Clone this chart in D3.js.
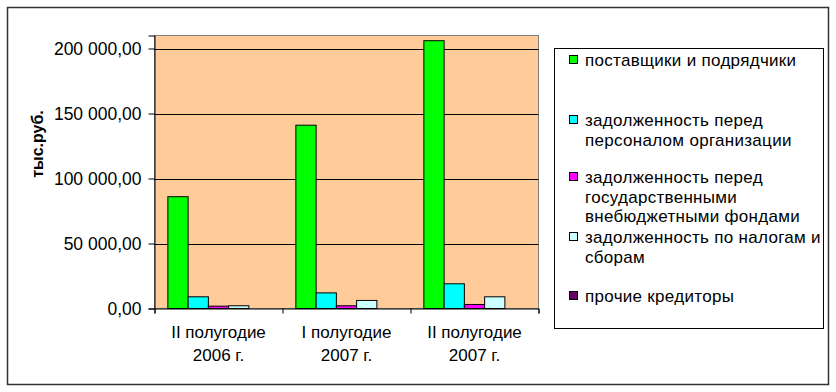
<!DOCTYPE html>
<html>
<head>
<meta charset="utf-8">
<script src="https://cdn.jsdelivr.net/npm/d3@7"></script>
<style>
  body { margin: 0; background: #fff; }
  svg { display: block; font-family: "Liberation Sans", Arial, sans-serif; }
</style>
</head>
<body>
<svg id="chart"></svg>
<script>
var categories = ["II полугодие\n2006 г.", "I полугодие\n2007 г.", "II полугодие\n2007 г."];
var seriesNames = [
    "поставщики и подрядчики",
    "задолженность перед\nперсоналом организации",
    "задолженность перед\nгосударственными\nвнебюджетными фондами",
    "задолженность по налогам и\nсборам",
    "прочие кредиторы"
];
var seriesColors = ["#00ff00", "#00ffff", "#ff00ff", "#ccffff", "#660066"];
var suppliers = [86000, 141000, 206000];
var personnel = [9000, 12000, 19000];
var funds = [1800, 2100, 3100];
var taxes = [2100, 6200, 9000];
var others = [0, 0, 0];
var yTicks = [0, 50000, 100000, 150000, 200000];

var seriesValues = [suppliers, personnel, funds, taxes, others];

var W = 836, H = 392;
var plot = { left: 154.5, right: 538.5, top: 35.5, bottom: 308.5 };

var svg = d3.select("#chart").attr("width", W).attr("height", H);

// outer frame
svg.append("rect")
    .attr("x", 7.5).attr("y", 7.5)
    .attr("width", 821).attr("height", 377)
    .attr("fill", "#fff")
    .attr("stroke", "#333").attr("stroke-width", 1.5);

var x0 = d3.scaleBand()
    .domain(categories)
    .range([plot.left, plot.right])
    .paddingInner(0).paddingOuter(0);

var x1 = d3.scaleBand()
    .domain(d3.range(seriesNames.length))
    .range([0, x0.bandwidth()])
    .paddingInner(0).paddingOuter(0.66);

var y = d3.scaleLinear()
    .domain([0, 210000])
    .range([plot.bottom, plot.top]);

// plot background
svg.append("rect")
    .attr("x", plot.left).attr("y", plot.top)
    .attr("width", plot.right - plot.left)
    .attr("height", plot.bottom - plot.top)
    .attr("fill", "#ffcc99")
    .attr("stroke", "#808080").attr("stroke-width", 1);

// gridlines
svg.append("g").selectAll("line")
    .data(yTicks.filter(function(d) { return d > 0; }))
    .enter().append("line")
    .attr("x1", plot.left).attr("x2", plot.right)
    .attr("y1", function(d) { return Math.round(y(d)) + 0.5; })
    .attr("y2", function(d) { return Math.round(y(d)) + 0.5; })
    .attr("stroke", "#000").attr("stroke-width", 1);

// bars
var fmt = function(v) {
    return d3.format(",.2f")(v).replace(/,/g, " ").replace(".", ",");
};
var groups = svg.append("g").selectAll("g")
    .data(categories)
    .enter().append("g")
    .attr("transform", function(d) { return "translate(" + x0(d) + ",0)"; });

groups.selectAll("rect")
    .data(function(c, ci) {
        return seriesValues.map(function(vals, si) { return { s: si, v: vals[ci] }; })
            .filter(function(d) { return d.v > 0; });
    })
    .enter().append("rect")
    .attr("x", function(d) { return x1(d.s); })
    .attr("y", function(d) { return y(d.v); })
    .attr("width", x1.bandwidth())
    .attr("height", function(d) { return y(0) - y(d.v); })
    .attr("fill", function(d) { return seriesColors[d.s]; })
    .attr("stroke", "#000").attr("stroke-width", 1);

// y axis
var yAxis = svg.append("g")
    .attr("transform", "translate(" + plot.left + ",0)")
    .call(d3.axisLeft(y).tickValues(yTicks).tickSize(6).tickPadding(7).tickFormat(fmt));
yAxis.select(".domain").attr("stroke", "#000");
yAxis.selectAll("line").attr("stroke", "#000");
yAxis.selectAll("text")
    .attr("font-size", 17.5)
    .attr("font-family", "Liberation Sans, Arial, sans-serif")
    .attr("fill", "#000");

// x axis with boundary ticks
var xb = d3.scaleLinear().domain([0, categories.length]).range([plot.left, plot.right]);
var xAxis = svg.append("g")
    .attr("transform", "translate(0," + plot.bottom + ")")
    .call(d3.axisBottom(xb).tickValues(d3.range(categories.length + 1)).tickSize(5).tickFormat(""));
xAxis.select(".domain").attr("stroke", "#000");
xAxis.selectAll("line").attr("stroke", "#000");

svg.append("g").selectAll("text")
    .data(categories)
    .enter().append("text")
    .attr("x", function(d) { return x0(d) + x0.bandwidth() / 2; })
    .attr("y", 338)
    .attr("text-anchor", "middle")
    .attr("font-size", 17)
    .attr("fill", "#000")
    .each(function(d) {
        var t = d3.select(this);
        d.split("\n").forEach(function(line, i) {
            t.append("tspan")
                .attr("x", x0(d) + x0.bandwidth() / 2)
                .attr("dy", i === 0 ? 0 : 23)
                .text(line);
        });
    });

// y title
svg.append("text")
    .attr("transform", "translate(43,144) rotate(-90)")
    .attr("text-anchor", "middle")
    .attr("font-size", 16)
    .attr("font-weight", "bold")
    .attr("fill", "#000")
    .text("тыс.руб.");

// legend
var legend = svg.append("g");
legend.append("rect")
    .attr("x", 554.5).attr("y", 48.5)
    .attr("width", 269).attr("height", 280)
    .attr("fill", "#fff")
    .attr("stroke", "#000").attr("stroke-width", 1);

var legendY = [60, 120, 177, 237, 296];
var items = legend.selectAll("g.item")
    .data(seriesNames)
    .enter().append("g")
    .attr("class", "item");

items.append("rect")
    .attr("x", 569.5)
    .attr("y", function(d, i) { return legendY[i] - 4.5; })
    .attr("width", 8).attr("height", 8)
    .attr("fill", function(d, i) { return seriesColors[i]; })
    .attr("stroke", "#000").attr("stroke-width", 1);

items.append("text")
    .attr("x", 585)
    .attr("y", function(d, i) { return legendY[i] + 6; })
    .attr("font-size", 17)
    .attr("letter-spacing", 0.3)
    .attr("fill", "#000")
    .each(function(d) {
        var t = d3.select(this);
        d.split("\n").forEach(function(line, i) {
            t.append("tspan")
                .attr("x", 585)
                .attr("dy", i === 0 ? 0 : 19.5)
                .text(line);
        });
    });
</script>
</body>
</html>
